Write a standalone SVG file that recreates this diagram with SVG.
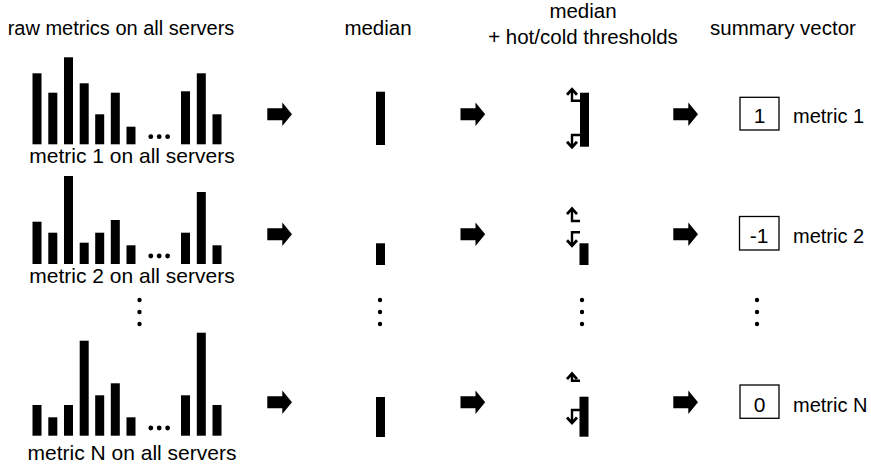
<svg xmlns="http://www.w3.org/2000/svg" width="871" height="465" viewBox="0 0 871 465">
<defs>
<style>
text{font-family:"Liberation Sans",Arial,Helvetica,sans-serif;fill:#000}
.hd{font-size:20.5px;text-anchor:middle}
.lb{font-size:21px;text-anchor:middle}
.rl{font-size:20px}
.bx{fill:#fff;stroke:#000;stroke-width:1.3}
.bt{font-size:21px;text-anchor:middle}
.th{fill:none;stroke:#000;stroke-width:2.4}
.ah{fill:none;stroke:#000;stroke-width:2.8;stroke-linejoin:miter}
.bar{fill:#000}
</style>
<path id="blk" d="M0,-6 H15 V-11.7 L24.7,0 L15,11.7 V6 H0 Z" fill="#000"/>
<g id="dots3"><circle cx="150.8" cy="0" r="2.4"/><circle cx="159.2" cy="0" r="2.4"/><circle cx="167.6" cy="0" r="2.4"/></g>
<g id="vdots"><circle cx="0" cy="300" r="2.2"/><circle cx="0" cy="312" r="2.2"/><circle cx="0" cy="324" r="2.2"/></g>
</defs>
<rect width="871" height="465" fill="#fff"/>

<g id="headers">
<text class="hd" x="121" y="35" style="font-size:20px">raw metrics on all servers</text>
<text class="hd" x="378" y="35">median</text>
<text class="hd" x="583" y="18">median</text>
<text class="hd" x="583" y="44">+ hot/cold thresholds</text>
<text class="hd" x="783" y="35">summary vector</text>
</g>

<g id="raw1">
<rect class="bar" x="32.5" y="73.3" width="9" height="71"/>
<rect class="bar" x="48.3" y="92.7" width="9" height="51.6"/>
<rect class="bar" x="64" y="57.3" width="9" height="87"/>
<rect class="bar" x="79.7" y="83.3" width="9" height="61"/>
<rect class="bar" x="95.2" y="114.3" width="9" height="30"/>
<rect class="bar" x="110.8" y="92.7" width="9" height="51.6"/>
<rect class="bar" x="126.5" y="126.7" width="9" height="17.6"/>
<use href="#dots3" y="136.7"/>
<rect class="bar" x="181" y="91.3" width="9" height="53"/>
<rect class="bar" x="196.8" y="73.3" width="9" height="71"/>
<rect class="bar" x="212.5" y="114.3" width="9" height="30"/>
<text class="lb" x="132" y="163">metric 1 on all servers</text>
</g>

<g id="raw2">
<rect class="bar" x="32.5" y="221.7" width="9" height="42.3"/>
<rect class="bar" x="48.3" y="232.7" width="9" height="31.3"/>
<rect class="bar" x="64" y="176" width="9" height="88"/>
<rect class="bar" x="79.7" y="242.7" width="9" height="21.3"/>
<rect class="bar" x="95.2" y="232.7" width="9" height="31.3"/>
<rect class="bar" x="110.8" y="220" width="9" height="44"/>
<rect class="bar" x="126.5" y="245.3" width="9" height="18.7"/>
<use href="#dots3" y="256"/>
<rect class="bar" x="181" y="232.7" width="9" height="31.3"/>
<rect class="bar" x="196.8" y="192" width="9" height="72"/>
<rect class="bar" x="212.5" y="245.3" width="9" height="18.7"/>
<text class="lb" x="132" y="283">metric 2 on all servers</text>
</g>

<g id="rawN">
<rect class="bar" x="32.5" y="405" width="9" height="30.7"/>
<rect class="bar" x="48.3" y="417.3" width="9" height="18.4"/>
<rect class="bar" x="64" y="405" width="9" height="30.7"/>
<rect class="bar" x="79.7" y="340.7" width="9" height="95"/>
<rect class="bar" x="95.2" y="395.3" width="9" height="40.4"/>
<rect class="bar" x="110.8" y="383.3" width="9" height="52.4"/>
<rect class="bar" x="126.5" y="417.3" width="9" height="18.4"/>
<use href="#dots3" y="428"/>
<rect class="bar" x="181" y="395.3" width="9" height="40.4"/>
<rect class="bar" x="196.8" y="332.7" width="9" height="103"/>
<rect class="bar" x="212.5" y="405" width="9" height="30.7"/>
<text class="lb" x="132" y="460">metric N on all servers</text>
</g>

<g id="median1"><rect class="bar" x="376" y="91.7" width="9" height="53.3"/></g>
<g id="median2"><rect class="bar" x="376" y="243.3" width="9" height="21.7"/></g>
<g id="medianN"><rect class="bar" x="376" y="397" width="9" height="40"/></g>

<g id="thresh1">
<rect class="bar" x="580" y="92.7" width="9" height="54"/>
<path class="th" d="M580,100.7 H572 V90"/>
<path class="ah" d="M567,94.8 L572,89.3 L577,94.8"/>
<path class="th" d="M580,135 H572 V146.5"/>
<path class="ah" d="M567,141.7 L572,147.2 L577,141.7"/>
</g>
<g id="thresh2">
<rect class="bar" x="579.5" y="243.3" width="9" height="21.7"/>
<path class="th" d="M580,221 H572 V209.3"/>
<path class="ah" d="M567,214.1 L572,208.6 L577,214.1"/>
<path class="th" d="M580,232.3 H572 V245"/>
<path class="ah" d="M567,240.2 L572,245.7 L577,240.2"/>
</g>
<g id="threshN">
<rect class="bar" x="579.5" y="396.7" width="9" height="40"/>
<path class="th" d="M580,380.7 H572 V374.3"/>
<path class="ah" d="M567,379.1 L572,373.6 L577,379.1"/>
<path class="th" d="M580,410 H572 V422.3"/>
<path class="ah" d="M567,417.5 L572,423 L577,417.5"/>
</g>

<g id="summary1">
<rect class="bx" x="740" y="97.3" width="39" height="32.7"/>
<text class="bt" x="759.5" y="123">1</text>
<text class="rl" x="793" y="123">metric 1</text>
</g>
<g id="summary2">
<rect class="bx" x="739.5" y="216.5" width="39.5" height="33.5"/>
<text class="bt" x="759" y="243">-1</text>
<text class="rl" x="793" y="243">metric 2</text>
</g>
<g id="summaryN">
<rect class="bx" x="740" y="385" width="39" height="33.3"/>
<text class="bt" x="759.5" y="411.5">0</text>
<text class="rl" x="793" y="411.5">metric N</text>
</g>

<g id="ellipses">
<use href="#vdots" x="139.5"/>
<use href="#vdots" x="380"/>
<use href="#vdots" x="582"/>
<use href="#vdots" x="757"/>
</g>

<g id="connectors">
<use href="#blk" x="267.3" y="114.3"/>
<use href="#blk" x="460.5" y="114.3"/>
<use href="#blk" x="673.3" y="114.3"/>
<use href="#blk" x="267.3" y="234.3"/>
<use href="#blk" x="460.5" y="234.3"/>
<use href="#blk" x="673.3" y="234.3"/>
<use href="#blk" x="267.3" y="402.3"/>
<use href="#blk" x="460.5" y="402.3"/>
<use href="#blk" x="673.3" y="402.3"/>
</g>
</svg>
